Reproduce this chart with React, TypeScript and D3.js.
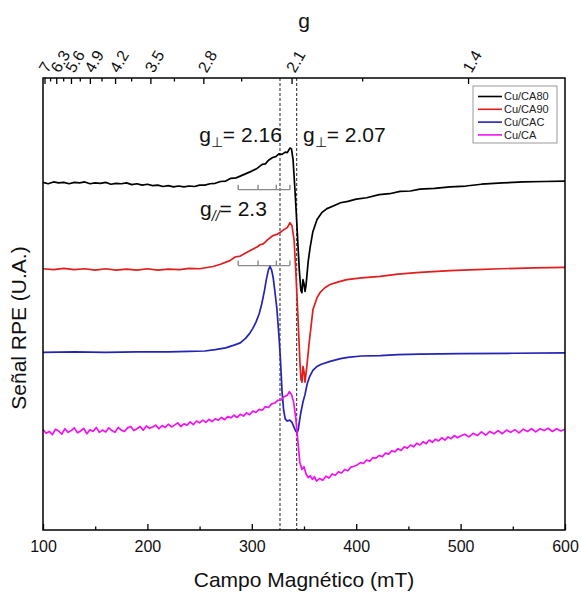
import React, { useRef, useEffect } from 'react';
import * as d3 from 'd3';

const FONT = '"Liberation Sans", Arial, sans-serif';

// bottom axis (mT)
const fieldTicks = [100, 200, 300, 400, 500, 600];
const fieldMinor = [150, 250, 350, 450, 550];
// top axis (g), B(mT) = gConst / g
const gConst = 710;
const gTicks = [7, 6.3, 5.6, 4.9, 4.2, 3.5, 2.8, 2.1, 1.4];
const gMinor = [6.65, 5.95, 5.25, 4.55, 3.85, 3.15, 2.45, 1.75];

const seriesNames = ['Cu/CA80', 'Cu/CA90', 'Cu/CAC', 'Cu/CA'];
const seriesColors = ['#000000', '#e11d1d', '#2323b5', '#f012f0'];

// field (mT), signal (a.u., offset for stacking)
const cuCA80: [number, number][] = [
  [100, 76.9], [105, 76.6], [110, 77.0], [115, 76.8], [120, 76.9], [125, 76.6], [130, 76.9], [135, 76.8],
  [140, 77.0], [145, 76.6], [150, 76.8], [155, 76.7], [160, 76.9], [165, 76.5], [170, 76.7], [175, 76.6],
  [180, 76.8], [185, 76.4], [190, 76.6], [195, 76.3], [200, 76.5], [205, 76.2], [210, 76.3], [215, 76.0],
  [220, 76.2], [225, 75.9], [230, 76.1], [235, 75.9], [240, 76.1], [245, 76.0], [250, 76.3], [255, 76.3],
  [260, 76.6], [265, 76.7], [270, 77.1], [275, 77.2], [280, 77.8], [285, 77.9], [290, 78.4], [295, 78.9],
  [300, 79.4], [305, 80.0], [310, 80.9], [313, 81.0], [316, 81.8], [320, 82.4], [323, 82.6], [326, 83.2],
  [329, 83.1], [332, 83.6], [334, 83.5], [336.5, 84.5], [338, 84.3], [339.5, 82.0], [341, 76.5], [342.5, 70.5],
  [344, 64.0], [345.5, 57.5], [347, 53.0], [348, 52.5], [349, 55.4], [350, 54.5], [351, 52.8], [352, 54.3],
  [354, 59.4], [356, 62.7], [358.5, 66.0], [362.5, 68.7], [367, 70.2], [372, 71.1], [378, 71.7], [385, 72.4],
  [392, 72.7], [400, 73.2], [410, 73.5], [422, 74.2], [432, 74.4], [442, 74.9], [452, 75.0], [461, 75.4],
  [475, 75.6], [490, 75.9], [505, 76.1], [520, 76.5], [540, 76.8], [560, 77.0], [580, 77.1], [600, 77.2],
];

const cuCA90: [number, number][] = [
  [100, 57.8], [110, 57.6], [120, 57.9], [130, 57.6], [140, 57.8], [150, 57.5], [160, 57.8], [170, 57.5],
  [180, 57.7], [190, 57.5], [200, 57.8], [210, 57.5], [220, 57.7], [231, 57.6], [240, 57.9], [250, 57.8],
  [263, 58.3], [270, 58.8], [279, 59.6], [284, 60.4], [289, 60.6], [295, 61.4], [300, 62.0], [305, 62.6],
  [308, 63.1], [311, 63.3], [315, 64.2], [320, 65.1], [324, 65.4], [327, 65.8], [331, 66.5], [334, 66.9],
  [336.6, 68.0], [338.5, 67.3], [340.5, 64.2], [342.3, 56.5], [344.3, 46.6], [346.2, 36.6], [347.1, 33.3], [348.1, 32.7],
  [349, 36.2], [350, 35.1], [351, 32.7], [352.9, 36.6], [354.8, 41.1], [358.6, 48.8], [362.5, 51.4], [365.3, 52.5],
  [370, 53.6], [375, 54.3], [383, 54.9], [391, 55.4], [405, 55.8], [423, 56.1], [440, 56.6], [461, 57.0],
  [490, 57.4], [515, 57.6], [538, 57.8], [570, 58.0], [600, 58.1],
];

const cuCAC: [number, number][] = [
  [100, 39.3], [130, 39.4], [160, 39.3], [190, 39.4], [220, 39.4], [240, 39.5], [255, 39.6], [265, 39.9],
  [275, 40.3], [283, 40.9], [289, 41.4], [294, 42.4], [298, 43.5], [301, 44.6], [304, 46.0], [307, 47.8],
  [309.5, 50.0], [312, 52.8], [314, 55.5], [316, 57.6], [317.5, 58.3], [319, 57.5], [320.5, 55.8], [322, 53.0],
  [324, 49.0], [326, 43.0], [327.5, 37.5], [329, 30.5], [330.5, 26.5], [332, 24.6], [334, 24.1], [336.5, 24.3],
  [338.5, 23.8], [340.5, 22.7], [342, 21.9], [343.3, 21.5], [344.5, 22.2], [345.5, 23.8], [347, 26.0], [349, 28.3],
  [351, 30.0], [353, 32.3], [355.5, 34.0], [358.5, 35.3], [362, 36.1], [366, 36.6], [375, 37.3], [385, 37.9],
  [392, 38.2], [405, 38.5], [423, 38.6], [440, 38.8], [461, 38.9], [500, 39.0], [550, 39.1], [600, 39.2],
];

const cuCA: [number, number][] = [
  [100, 22.2], [103, 21.4], [106, 21.8], [109, 21.1], [112, 22.3], [115, 21.9], [118, 21.2], [121, 22.4],
  [124, 21.6], [127, 22.0], [130, 22.6], [133, 21.5], [136, 21.9], [139, 22.5], [142, 21.3], [145, 22.2],
  [148, 21.8], [151, 22.7], [154, 21.6], [157, 22.1], [160, 21.7], [163, 22.6], [166, 22.0], [169, 21.6],
  [172, 22.7], [175, 22.1], [178, 21.8], [181, 22.6], [184, 22.9], [187, 22.0], [190, 22.4], [193, 22.9],
  [196, 22.1], [199, 23.0], [202, 22.5], [205, 22.8], [208, 23.2], [211, 22.4], [214, 23.1], [217, 22.7],
  [220, 23.4], [223, 22.8], [226, 23.2], [229, 23.7], [232, 22.9], [235, 23.5], [238, 23.2], [241, 23.9],
  [244, 23.3], [247, 24.1], [250, 23.7], [253, 24.3], [256, 23.8], [259, 24.5], [262, 24.0], [265, 24.6],
  [268, 24.3], [271, 24.9], [274, 24.4], [277, 25.1], [280, 24.8], [283, 25.4], [286, 24.9], [289, 25.6],
  [292, 25.2], [295, 25.9], [298, 25.5], [301, 26.3], [304, 26.0], [307, 26.7], [310, 26.5], [313, 27.3],
  [316, 27.1], [319, 27.9], [322, 28.1], [325, 28.7], [328, 28.8], [331, 29.5], [334, 29.8], [336, 30.6],
  [338, 30.0], [340, 28.4], [342, 25.0], [344, 20.0], [346, 15.0], [348, 13.4], [350, 14.0], [352, 12.4],
  [354, 11.6], [356, 12.0], [358, 11.2], [360, 11.8], [362, 10.8], [365, 11.4], [368, 11.0], [371, 11.9],
  [374, 11.5], [377, 12.4], [380, 12.1], [383, 12.9], [386, 12.6], [389, 13.4], [392, 13.1], [395, 13.9],
  [398, 14.1], [401, 14.4], [404, 14.9], [407, 14.7], [410, 15.5], [413, 15.2], [416, 16.0], [419, 15.9],
  [422, 16.5], [425, 16.2], [428, 17.0], [431, 16.8], [434, 17.5], [437, 17.3], [440, 18.0], [443, 17.6],
  [446, 18.4], [449, 18.1], [452, 18.8], [455, 18.4], [458, 19.2], [461, 18.8], [464, 19.5], [467, 19.1],
  [470, 19.9], [473, 19.4], [476, 20.1], [479, 19.7], [482, 20.4], [485, 19.9], [488, 20.6], [491, 20.2],
  [494, 20.9], [497, 20.4], [500, 20.8], [504, 21.2], [508, 20.6], [512, 21.4], [516, 20.9], [520, 21.7],
  [524, 21.0], [528, 21.8], [532, 21.3], [536, 22.0], [540, 21.3], [544, 22.1], [548, 21.6], [552, 22.2],
  [556, 21.5], [560, 22.3], [564, 21.8], [568, 22.4], [572, 21.7], [576, 22.4], [580, 22.0], [584, 22.5],
  [588, 21.8], [592, 22.4], [596, 21.9], [600, 22.3],
];

// g-perpendicular field markers (mT)
const markerFields = [327, 343];
// Cu hyperfine comb for g// (mT) and the signal level of each comb
const hyperfineFields = [287, 306, 323.5, 336.5];
const combLevels = [75.3, 58.5];

const App = () => {
  const chartRef = useRef<SVGSVGElement>(null);

  useEffect(() => {
    const svg = d3.select(chartRef.current);
    svg.selectAll('*').remove();

    const width = 581;
    const height = 592;
    const margin = { top: 78, right: 16, bottom: 62, left: 43 };

    const x = d3.scaleLinear().domain([100, 600]).range([margin.left, width - margin.right]);
    const y = d3.scaleLinear().domain([0, 100]).range([height - margin.bottom, margin.top]);

    svg.attr('width', width).attr('height', height).style('font-family', FONT);

    svg.append('rect')
      .attr('width', width).attr('height', height).attr('fill', '#fff');

    // dashed markers
    svg.append('g')
      .selectAll('line')
      .data(markerFields)
      .join('line')
      .attr('x1', d => x(d)).attr('x2', d => x(d))
      .attr('y1', y(100)).attr('y2', y(0))
      .attr('stroke', '#222')
      .attr('stroke-width', 1)
      .attr('stroke-dasharray', '3,2');

    // hyperfine combs
    const comb = svg.append('g').attr('stroke', '#8a8a8a').attr('stroke-width', 1.4).attr('fill', 'none');
    combLevels.forEach(level => {
      comb.append('line')
        .attr('x1', x(hyperfineFields[0])).attr('x2', x(hyperfineFields[hyperfineFields.length - 1]))
        .attr('y1', y(level)).attr('y2', y(level));
      comb.selectAll(null)
        .data(hyperfineFields)
        .join('line')
        .attr('x1', d => x(d)).attr('x2', d => x(d))
        .attr('y1', y(level)).attr('y2', y(level) - 5);
    });

    // spectra
    const line = d3.line<[number, number]>().x(d => x(d[0])).y(d => y(d[1]));
    const series = [cuCA80, cuCA90, cuCAC, cuCA];
    svg.append('g')
      .selectAll('path')
      .data(series)
      .join('path')
      .attr('d', d => line(d))
      .attr('fill', 'none')
      .attr('stroke', (d, i) => seriesColors[i])
      .attr('stroke-width', 1.7)
      .attr('stroke-linejoin', 'round');

    // bottom axis
    const bottomY = height - margin.bottom;
    const bottom = svg.append('g')
      .attr('transform', `translate(0,${bottomY})`)
      .call(d3.axisBottom(x).tickValues(fieldTicks).tickSize(-6).tickSizeOuter(0).tickPadding(11).tickFormat(d3.format('d')));
    bottom.call(g => g.select('.domain').remove());
    bottom.selectAll('text').attr('font-size', 16).attr('font-family', FONT).attr('fill', '#111');
    bottom.selectAll('line').attr('stroke-width', 1.3);
    const bottomMinor = svg.append('g')
      .attr('transform', `translate(0,${bottomY})`)
      .call(d3.axisBottom(x).tickValues(fieldMinor).tickSize(-3.5).tickSizeOuter(0).tickFormat(() => ''));
    bottomMinor.call(g => g.select('.domain').remove());
    bottomMinor.selectAll('line').attr('stroke-width', 1.3);

    // top axis (g)
    const top = svg.append('g')
      .attr('transform', `translate(0,${margin.top})`)
      .call(d3.axisTop(x).tickValues(gTicks.map(g => gConst / g)).tickSize(-6).tickSizeOuter(0)
        .tickFormat((d, i) => String(gTicks[i])));
    top.call(g => g.select('.domain').remove());
    top.selectAll('line').attr('stroke-width', 1.3);
    top.selectAll('text')
      .attr('y', null)
      .attr('dy', '0.35em')
      .attr('text-anchor', 'start')
      .attr('transform', 'translate(-2,-7) rotate(-60)')
      .attr('font-size', 16)
      .attr('font-family', FONT)
      .attr('fill', '#111');
    const topMinor = svg.append('g')
      .attr('transform', `translate(0,${margin.top})`)
      .call(d3.axisTop(x).tickValues(gMinor.map(g => gConst / g)).tickSize(-3.5).tickSizeOuter(0).tickFormat(() => ''));
    topMinor.call(g => g.select('.domain').remove());
    topMinor.selectAll('line').attr('stroke-width', 1.3);

    // frame
    svg.append('rect')
      .attr('x', margin.left).attr('y', margin.top)
      .attr('width', width - margin.left - margin.right)
      .attr('height', height - margin.top - margin.bottom)
      .attr('fill', 'none').attr('stroke', '#000').attr('stroke-width', 1.5);

    // axis titles
    svg.append('text')
      .attr('x', (margin.left + width - margin.right) / 2).attr('y', 587)
      .attr('text-anchor', 'middle').attr('font-size', 21).attr('fill', '#111')
      .text('Campo Magnético (mT)');
    svg.append('text')
      .attr('transform', 'translate(26,328) rotate(-90)')
      .attr('text-anchor', 'middle').attr('font-size', 21).attr('fill', '#111')
      .text('Señal RPE (U.A.)');
    svg.append('text')
      .attr('x', 304).attr('y', 28)
      .attr('text-anchor', 'middle').attr('font-size', 21).attr('fill', '#111')
      .text('g');

    // g annotations
    const annot = (field: number, level: number, sub: string, value: string, italic: boolean) => {
      const t = svg.append('text')
        .attr('x', x(field)).attr('y', y(level))
        .attr('font-size', 21).attr('fill', '#111');
      t.append('tspan').text('g');
      t.append('tspan').attr('dy', 5).attr('font-size', 14)
        .attr('font-style', italic ? 'italic' : 'normal').text(sub);
      t.append('tspan').attr('dy', -5).text(value);
    };
    annot(249.6, 85.8, '⊥', '= 2.16', false);
    annot(349, 85.8, '⊥', '= 2.07', false);
    annot(250.5, 69.5, '//', '= 2.3', true);

    // legend
    const legend = svg.append('g').attr('transform', 'translate(473,86)');
    legend.append('rect')
      .attr('width', 84).attr('height', 57)
      .attr('fill', '#fff').attr('stroke', '#999').attr('stroke-width', 1);
    const rows = legend.selectAll('g.row')
      .data(seriesNames)
      .join('g')
      .attr('class', 'row')
      .attr('transform', (d, i) => `translate(0,${10.5 + i * 12.8})`);
    rows.append('line')
      .attr('x1', 5).attr('x2', 29)
      .attr('stroke', (d, i) => seriesColors[i]).attr('stroke-width', 1.6);
    rows.append('text')
      .attr('x', 31).attr('dy', '0.35em')
      .attr('font-size', 11).attr('fill', '#222')
      .text(d => d);
  }, []);

  return (
    <div style={{ position: 'fixed', left: 0, top: 0 }}>
      <svg ref={chartRef} />
    </div>
  );
};

export default App;
